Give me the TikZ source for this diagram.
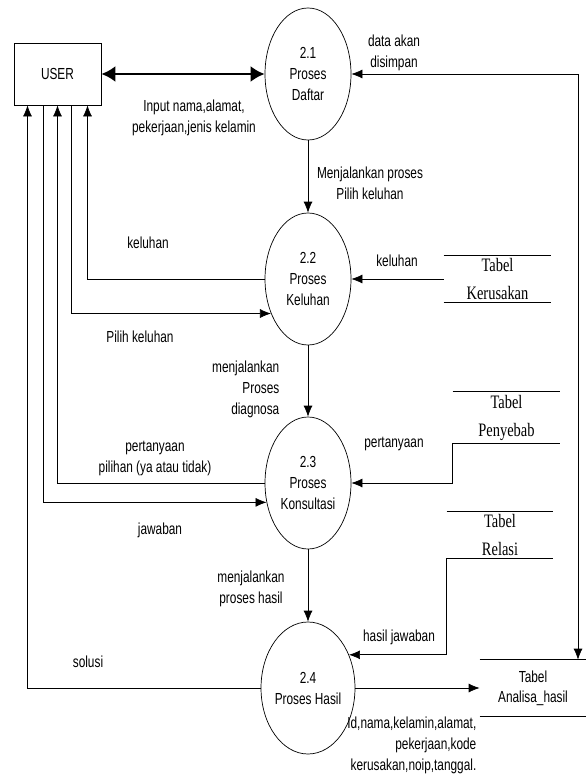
\documentclass[tikz,border=0pt]{standalone}
\usepackage{fontspec}
\setmainfont[FakeStretch=0.74]{Liberation Sans}
\newfontfamily\tabelfont[FakeStretch=0.76]{Liberation Serif}
\usetikzlibrary{shapes,arrows.meta,positioning}

\begin{document}
\begin{tikzpicture}[x=1pt,y=-1pt,line width=0.7pt,
    font=\fontsize{16}{21}\selectfont,
    proses/.style={ellipse,draw,minimum width=86pt,minimum height=132pt,inner sep=0pt,align=center},
    tabel/.style={minimum width=107pt,minimum height=46pt,inner sep=0pt,align=center},
    alir/.style={-{Latex[length=11pt,width=9pt]}},
    ket/.style={align=center}]
  \useasboundingbox (0,0) rectangle (586,776);
  % entitas luar
  \node[draw,minimum width=87pt,minimum height=62pt] (user) at (57.5,74) {USER};
  % proses
  \node[proses] (p21) at (308,74) {2.1\\Proses\\Daftar};
  \node[proses] (p22) at (308,279) {2.2\\Proses\\Keluhan};
  \node[proses] (p23) at (308,483) {2.3\\Proses\\Konsultasi};
  \node[proses] (p24) at (308,688) {2.4\\Proses Hasil};
  % data store
  \node[tabel,font=\tabelfont\fontsize{19}{28}\selectfont] (kerusakan) at (497.5,279) {Tabel\\Kerusakan};
  \node[tabel,minimum height=51pt,font=\tabelfont\fontsize{19}{28}\selectfont] (penyebab) at (506.5,417.5) {Tabel\\Penyebab};
  \node[tabel,minimum width=106pt,font=\tabelfont\fontsize{19}{28}\selectfont] (relasi) at (500,535) {Tabel\\Relasi};
  \node[tabel,minimum width=106pt,minimum height=56pt,font=\fontsize{16}{20}\selectfont] (analisa) at (533,688) {Tabel\\Analisa\_hasil};
  \foreach \t in {kerusakan,penyebab,relasi,analisa}
    \draw (\t.north west) -- (\t.north east) (\t.south west) -- (\t.south east);
  % aliran data
  \draw[line width=2.5pt,{Latex[length=14pt,width=16pt]}-{Latex[length=14pt,width=16pt]}] (user) -- (p21);
  \draw[alir] (p21) -- (p22);
  \draw[alir] (p22) -- (p23);
  \draw[alir] (p23) -- (p24);
  \draw[alir] (p22.west) -| ([xshift=30pt]user.south);
  \draw[alir] ([xshift=14pt]user.south) |- (p22.223);
  \draw[alir] (p23.west) -| (user.south);
  \draw[alir] ([xshift=-14pt]user.south) |- (p23.205);
  \draw[alir] (p24.west) -| ([xshift=-30pt]user.south);
  \draw[alir] (kerusakan.west) -- (p22.east);
  \draw[alir] (penyebab.south west) |- (p23.east);
  \draw[alir] (relasi.south west) |- (p24.39);
  \draw[alir] (p24.east) -- (analisa.west);
  \draw[{Latex[length=11pt,width=9pt]}-{Latex[length=11pt,width=9pt]}] (p21.east) -| ([xshift=45pt]analisa.north);
  % keterangan
  \node[ket] (kinput) at (194,118) {Input nama,alamat,\\pekerjaan,jenis kelamin};
  \node[ket] (ksimpan) at (394,53) {data akan\\disimpan};
  \node[ket] (kpilih) at (370,183) {Menjalankan proses\\Pilih keluhan};
  \node[ket] (kkeluhan) at (148,243) {keluhan};
  \node[ket] (kpilihkel) at (140,337) {Pilih keluhan};
  \node[ket] (kkeluhan2) at (397,261) {keluhan};
  \node[align=right,anchor=east] (kdiagnosa) at (283,389) {menjalankan\\Proses\\diagnosa};
  \node[ket] (ktanya) at (155,458) {pertanyaan\\pilihan (ya atau tidak)};
  \node[ket] (ktanya2) at (394,444) {pertanyaan};
  \node[ket] (kjawab) at (160,530) {jawaban};
  \node[ket] (khasil) at (251,589) {menjalankan\\proses hasil};
  \node[ket] (ksolusi) at (88,662) {solusi};
  \node[ket] (khasiljawab) at (399,637) {hasil jawaban};
  \node[align=right,anchor=east] (kdata) at (480,745) {Id,nama,kelamin,alamat,\\pekerjaan,kode\\kerusakan,noip,tanggal.};
\end{tikzpicture}
\end{document}
